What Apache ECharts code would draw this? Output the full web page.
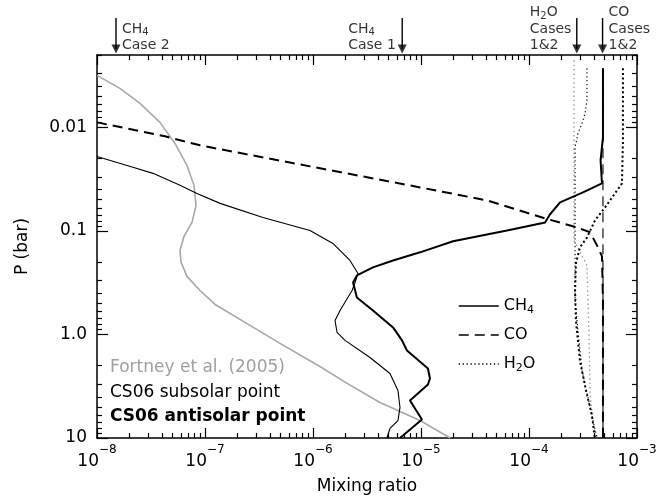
<!DOCTYPE html>
<html>
<head>
<meta charset="utf-8">
<script src="https://cdn.jsdelivr.net/npm/echarts@6/dist/echarts.min.js"></script>
<style>
html, body { margin: 0; padding: 0; background: #fff; }
#main { width: 661px; height: 496px; }
</style>
</head>
<body>
<div id="main"></div>
<script>
// 读图得到的数据: [mixing ratio, P (bar)]
var fortneyCH4 = [[1.0e-8, 0.00315], [1.63e-8, 0.0042], [2.5e-8, 0.00586], [3.83e-8, 0.00895], [5.27e-8, 0.0143],
    [6.81e-8, 0.0233], [7.91e-8, 0.0363], [8.26e-8, 0.0568], [7.58e-8, 0.0828], [6.39e-8, 0.113], [5.87e-8, 0.154],
    [6.0e-8, 0.201], [6.81e-8, 0.275], [8.99e-8, 0.376], [1.24e-7, 0.513], [2.61e-7, 0.818], [4.95e-7, 1.22],
    [1.16e-6, 2.04], [2.07e-6, 2.97], [4.17e-6, 4.54], [9.8e-6, 6.78], [1.86e-5, 10]];
var fortneyH2O = [[2.61e-4, 0.00225], [2.61e-4, 0.124], [3.44e-4, 0.215], [3.59e-4, 0.914], [3.67e-4, 3.48], [4.0e-4, 10]];

var subCH4 = [[1.0e-8, 0.0191], [2.15e-8, 0.0243], [3.30e-8, 0.0278], [5.87e-8, 0.0363], [8.43e-8, 0.0434],
    [1.38e-7, 0.0542], [3.44e-7, 0.0741], [9.38e-7, 0.0989], [1.53e-6, 0.132], [2.20e-6, 0.193], [2.61e-6, 0.258],
    [2.45e-6, 0.315], [2.30e-6, 0.376], [1.78e-6, 0.586], [1.60e-6, 0.733], [1.67e-6, 0.957], [1.98e-6, 1.14],
    [3.37e-6, 1.67], [5.16e-6, 2.38], [6.12e-6, 3.48], [6.39e-6, 5.07], [6.12e-6, 6.78], [5.16e-6, 8.09], [4.84e-6, 10]];
var subCO = [[4.84e-4, 0.00269], [4.84e-4, 10]];
var subH2O = [[3.44e-4, 0.00269], [3.44e-4, 0.00548], [3.30e-4, 0.00733], [3.10e-4, 0.00914], [2.84e-4, 0.0114],
    [2.67e-4, 0.0156], [2.67e-4, 0.469], [2.84e-4, 0.914], [3.10e-4, 2.23], [3.52e-4, 4.06], [3.91e-4, 6.78], [4.27e-4, 10]];

var antiCH4 = [[4.84e-4, 0.00269], [4.84e-4, 0.0125], [4.60e-4, 0.0208], [4.74e-4, 0.0348], [3.16e-4, 0.0425],
    [1.94e-4, 0.0531], [1.56e-4, 0.0694], [1.41e-4, 0.0828], [6.25e-5, 0.0989], [1.98e-5, 0.126], [9.8e-6, 0.161],
    [5.51e-6, 0.193], [3.59e-6, 0.225], [2.55e-6, 0.269], [2.35e-6, 0.315], [2.55e-6, 0.440], [3.59e-6, 0.586],
    [5.51e-6, 0.855], [6.67e-6, 1.14], [7.41e-6, 1.43], [1.16e-5, 2.13], [1.21e-5, 2.66], [1.16e-5, 3.04],
    [7.91e-6, 4.34], [1.02e-5, 6.62], [6.39e-6, 10]];
var antiCO = [[1.0e-8, 0.00895], [4.26e-8, 0.0122], [8.99e-8, 0.0149], [9.38e-7, 0.0238], [9.8e-6, 0.038],
    [4.08e-5, 0.0507], [1.41e-4, 0.0757], [2.78e-4, 0.0925], [3.67e-4, 0.103], [4.36e-4, 0.144], [4.74e-4, 0.176],
    [4.84e-4, 0.469], [4.84e-4, 10]];
var antiH2O = [[7.41e-4, 0.00269], [7.41e-4, 0.0134], [7.26e-4, 0.0348], [6.25e-4, 0.0434], [5.06e-4, 0.0593],
    [4.08e-4, 0.0793], [3.44e-4, 0.116], [2.96e-4, 0.144], [2.72e-4, 0.206], [2.67e-4, 0.376], [2.72e-4, 0.733],
    [2.96e-4, 1.78], [3.37e-4, 3.48], [3.83e-4, 6.06], [4.08e-4, 10]];

// 顶部箭头
var arrowX = [1.5e-8, 6.7e-6, 2.77e-4, 4.8e-4];
var arrowText = ['CH{sub|4}\nCase 2', 'CH{sub|4}\nCase 1', 'H{sub|2}O\nCases\n1&2', 'CO\nCases\n1&2'];
var arrowOffsetX = [6, -54, -47, 6];
var arrowTopP = 0.00088;
var arrowHeadP = 0.00175;

// 刻度
var xMajor = [1e-8, 1e-7, 1e-6, 1e-5, 1e-4, 1e-3];
var yMajor = [0.01, 0.1, 1, 10];
var yLabelText = ['0.01', '0.1', '1.0', '10'];
var legendText = { CH4: 'CH{sub|4}', CO: 'CO', H2O: 'H{sub|2}O' };

var xMinor = [];
for (var d = 0; d < xMajor.length - 1; d++) {
    for (var k = 2; k <= 9; k++) xMinor.push(k * xMajor[d]);
}
var yMinor = [];
[0.001, 0.01, 0.1, 1].forEach(function (dec) {
    for (var k = 2; k <= 9; k++) {
        var v = k * dec;
        if (v >= 0.002 && v <= 10) yMinor.push(v);
    }
});

var FONT = "'DejaVu Sans', sans-serif";
var tickStyle = { color: '#000', width: 1.2 };

function xAxisDef(pos, major) {
    return {
        type: 'log', logBase: 10, min: 1e-8, max: 1e-3, position: pos, gridIndex: 0,
        axisLine: { show: major, onZero: false, lineStyle: { color: '#000', width: 1.5 } },
        axisTick: { show: true, inside: true, length: major ? 10 : 5, customValues: major ? xMajor : xMinor, lineStyle: tickStyle },
        axisLabel: { show: false },
        splitLine: { show: false }, minorSplitLine: { show: false }, minorTick: { show: false }
    };
}
function yAxisDef(pos, major) {
    return {
        type: 'log', logBase: 10, min: 0.002, max: 10, inverse: true, position: pos, gridIndex: 0,
        axisLine: { show: major, onZero: false, lineStyle: { color: '#000', width: 1.5 } },
        axisTick: { show: true, inside: true, length: major ? 11 : 5, customValues: major ? yMajor : yMinor, lineStyle: tickStyle },
        axisLabel: { show: false },
        splitLine: { show: false }, minorSplitLine: { show: false }, minorTick: { show: false }
    };
}

var xAxes = [xAxisDef('bottom', true), xAxisDef('bottom', false), xAxisDef('top', true), xAxisDef('top', false)];
xAxes[0].axisLabel = {
    show: true, customValues: xMajor, margin: 6, color: '#000', fontFamily: FONT,
    formatter: function (v) {
        var e = Math.round(Math.log10(v));
        return '{b|10}{sup|' + (e < 0 ? '\u2212' : '') + Math.abs(e) + '}';
    },
    rich: {
        b: { fontSize: 17, lineHeight: 26, verticalAlign: 'bottom', fontFamily: FONT, color: '#000' },
        sup: { fontSize: 12, lineHeight: 12, verticalAlign: 'top', fontFamily: FONT, color: '#000' }
    }
};
xAxes[0].name = 'Mixing ratio';
xAxes[0].nameLocation = 'middle';
xAxes[0].nameGap = 40;
xAxes[0].nameTextStyle = { fontSize: 17, fontFamily: FONT, color: '#000' };

var yAxes = [yAxisDef('left', true), yAxisDef('left', false), yAxisDef('right', true), yAxisDef('right', false)];
yAxes[0].axisLabel = {
    show: true, customValues: yMajor, margin: 10, fontSize: 17, fontFamily: FONT, color: '#000',
    formatter: function (v) { return yLabelText[Math.round(Math.log10(v)) + 2]; }
};
yAxes[0].name = 'P (bar)';
yAxes[0].nameLocation = 'middle';
yAxes[0].nameGap = 66;
yAxes[0].nameRotate = 90;
yAxes[0].nameTextStyle = { fontSize: 17, fontFamily: FONT, color: '#000' };

function curve(name, data, color, width, dash) {
    return {
        type: 'line', name: name, data: data, xAxisIndex: 0, yAxisIndex: 0,
        symbol: 'none', smooth: false, clip: true, silent: true,
        lineStyle: { color: color, width: width, type: dash || 'solid' },
        itemStyle: { color: color }
    };
}

var GRAY = '#a8a8a8';
var series = [
    curve('Fortney CH4', fortneyCH4, GRAY, 1.6),
    curve('Fortney H2O', fortneyH2O, '#999', 1.4, [1.4, 3]),
    curve('CH4', subCH4, '#000', 1.1),
    curve('CO', subCO, '#000', 1.1, [10, 6]),
    curve('H2O', subH2O, '#000', 1.1, [1.3, 2.6]),
    curve('antisolar CH4', antiCH4, '#000', 2),
    curve('antisolar CO', antiCO, '#000', 2, [10, 6]),
    curve('antisolar H2O', antiH2O, '#000', 2, [2, 2.6])
];

// 箭头竖线
arrowX.forEach(function (x, i) {
    series.push({
        type: 'line', name: 'arrow' + i, data: [[x, arrowTopP], [x, arrowHeadP]],
        symbol: 'none', clip: false, silent: true,
        lineStyle: { color: '#000', width: 1.4 }
    });
});
// 箭头和文字
series.push({
    type: 'scatter', name: 'arrowHead', clip: false, silent: true,
    symbol: 'triangle', symbolRotate: 180, symbolSize: [9, 9],
    itemStyle: { color: '#000' },
    data: arrowX.map(function (x, i) {
        return {
            value: [x, arrowHeadP],
            label: {
                show: true, position: 'inside', align: 'left', verticalAlign: 'bottom',
                offset: [arrowOffsetX[i], 5], formatter: arrowText[i],
                fontSize: 14, lineHeight: 16.5, fontFamily: FONT, color: '#000',
                rich: { sub: { fontSize: 10, lineHeight: 10, verticalAlign: 'bottom', fontFamily: FONT, color: '#000' } }
            }
        };
    })
});

var option = {
    backgroundColor: '#fff',
    animation: false,
    grid: { left: 97, right: 24, top: 55, bottom: 58, containLabel: false, outerBoundsMode: 'none' },
    xAxis: xAxes,
    yAxis: yAxes,
    legend: {
        data: ['CH4', 'CO', 'H2O'], orient: 'vertical', left: 453, top: 291,
        itemWidth: 40, itemHeight: 14, itemGap: 9, selectedMode: false,
        lineStyle: { width: 1.5 },
        itemStyle: { opacity: 0 },
        formatter: function (n) { return legendText[n]; },
        textStyle: {
            fontSize: 16, lineHeight: 20, fontFamily: FONT, color: '#000',
            rich: { sub: { fontSize: 11, lineHeight: 11, verticalAlign: 'bottom', fontFamily: FONT, color: '#000' } }
        }
    },
    graphic: [
        { type: 'text', x: 110, y: 368, style: { text: 'Fortney et al. (2005)', fill: '#a0a0a0', fontSize: 17, fontFamily: FONT, verticalAlign: 'middle' } },
        { type: 'text', x: 110, y: 393, style: { text: 'CS06 subsolar point', fill: '#000', fontSize: 17, fontFamily: FONT, verticalAlign: 'middle' } },
        { type: 'text', x: 110, y: 417, style: { text: 'CS06 antisolar point', fill: '#000', fontSize: 17, fontWeight: 'bold', fontFamily: FONT, verticalAlign: 'middle' } }
    ],
    series: series
};

var chart = echarts.init(document.getElementById('main'));
chart.setOption(option);
</script>
</body>
</html>
